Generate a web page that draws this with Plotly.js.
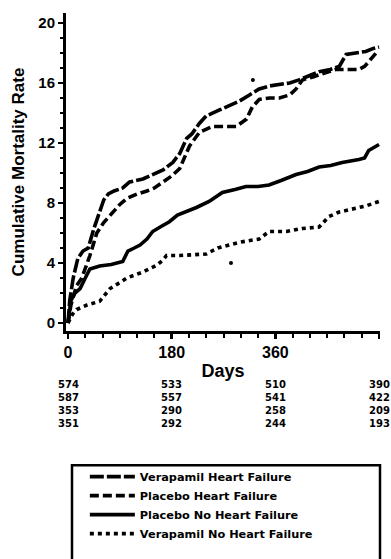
<!DOCTYPE html>
<html><head><meta charset="utf-8">
<script src="https://cdn.plot.ly/plotly-3.0.1.min.js"></script>
<style>html,body{margin:0;padding:0;background:#fff}</style>
</head><body><div id="chart" style="width:391px;height:559px"></div>
<script>
// ---- data ----
const seriesNames = ["Verapamil Heart Failure", "Placebo Heart Failure", "Placebo No Heart Failure", "Verapamil No Heart Failure"];

const verHFDays = [0,3,9,17,26,35,45,55,62,70,80,95,107,130,142,165,182,194,206,215,228,240,263,280,298,315,332,350,367,385,401,420,436,455,471,483,500,517,530,540];
const verHFRate = [0,1.5,3.0,4.3,4.8,5.0,6.3,7.5,8.2,8.6,8.8,9.0,9.4,9.6,9.8,10.2,10.7,11.3,12.3,12.6,13.3,13.8,14.2,14.5,14.8,15.2,15.6,15.8,15.9,16.0,16.2,16.5,16.75,16.9,17.1,17.9,18.0,18.1,18.3,18.4];

const plaHFDays = [0,5,15,24,38,50,62,78,90,102,120,137,150,165,180,194,211,228,251,270,292,310,320,332,350,367,385,396,407,425,441,465,485,505,515,522,535,540];
const plaHFRate = [0,1.2,2.5,3.0,4.5,6.0,6.7,7.4,7.9,8.3,8.6,8.8,9.0,9.4,9.8,10.3,11.8,12.7,13.1,13.1,13.1,13.6,14.4,14.9,15.0,15.0,15.2,15.6,16.2,16.4,16.6,16.9,16.9,16.9,17.1,17.4,18.0,18.1];

const plaNoHFDays = [0,5,12,21,30,38,55,75,95,104,115,125,137,147,160,176,190,205,223,245,268,290,309,330,349,370,396,416,436,456,476,505,515,522,530,540];
const plaNoHFRate = [0,1.5,2.0,2.3,3.0,3.6,3.8,3.9,4.1,4.8,5.0,5.2,5.6,6.1,6.4,6.75,7.2,7.4,7.7,8.1,8.7,8.9,9.1,9.1,9.2,9.5,9.9,10.1,10.4,10.5,10.7,10.9,11.0,11.5,11.7,11.9];

const verNoHFDays = [0,8,15,33,55,65,73,90,102,130,154,165,171,194,223,240,260,280,300,332,349,379,407,436,445,453,471,493,517,536,540];
const verNoHFRate = [0,0.6,0.9,1.2,1.45,1.9,2.3,2.7,3.0,3.4,3.85,4.2,4.5,4.5,4.6,4.6,5.0,5.2,5.4,5.6,6.1,6.1,6.3,6.4,6.8,7.1,7.4,7.6,7.8,8.05,8.1];

// stray specks printed in the original figure
const speckDays = [321, 283];
const speckRate = [16.2, 4.0];

// patients at risk
const atRiskDays = [0,180,360,540];
const atRiskVerHF = [574,533,510,390];
const atRiskPlaHF = [587,557,541,422];
const atRiskPlaNoHF = [353,290,258,209];
const atRiskVerNoHF = [351,292,244,193];

const xTicks = [0,180,360,540];
const yTicks = [0,4,8,12,16,20];

// ---- drawing ----
const FONT = "Liberation Sans, Arial, sans-serif";
const NUMFONT = "DejaVu Sans, sans-serif";
const plotTop = 13, plotBottom = 333, plotH = plotBottom - plotTop;
const py2paper = py => (plotBottom - py) / plotH;

const dashes = ["14px,3px", "9px,4px", "solid", "4px,4px"];
const xs = [verHFDays, plaHFDays, plaNoHFDays, verNoHFDays];
const ys = [verHFRate, plaHFRate, plaNoHFRate, verNoHFRate];
const traces = seriesNames.map((n, i) => ({
  type: "scatter", mode: "lines", name: n, x: xs[i], y: ys[i],
  line: {color: "#000", width: 3.6, dash: dashes[i]}
}));
traces.push({type: "scatter", mode: "markers", x: speckDays, y: speckRate, showlegend: false,
  marker: {color: "#000", size: 4}});

// one stacked label per column (rows in legend order)
const rows = [atRiskVerHF, atRiskPlaHF, atRiskPlaNoHF, atRiskVerNoHF];
const annotations = atRiskDays.map((d, ci) => ({
  xref: "x", yref: "paper", x: d, y: py2paper(406),
  xanchor: "center", yanchor: "middle", showarrow: false, align: "center",
  text: rows.map(r => String(r[ci])).join("<br>"),
  font: {family: NUMFONT, size: 10, color: "#000", weight: "bold"}
}));

const layout = {
  width: 391, height: 559,
  margin: {l: 66, r: 11, t: plotTop, b: 559 - plotBottom},
  paper_bgcolor: "#fff", plot_bgcolor: "#fff",
  showlegend: true,
  legend: {
    x: 0.06, y: py2paper(465), xanchor: "left", yanchor: "top",
    bgcolor: "rgba(0,0,0,0)", borderwidth: 0, itemwidth: 45,
    font: {family: NUMFONT, size: 11.3, color: "#000", weight: "bold"},
    tracegroupgap: 0
  },
  xaxis: {
    range: [-3.5, 541.7], tickvals: xTicks, ticktext: xTicks.map(String),
    showgrid: false, zeroline: false, showline: true, linecolor: "#000", linewidth: 3,
    ticks: "outside", ticklen: 5, tickwidth: 2.5, tickcolor: "#000",
    minor: {dtick: 30, tick0: 0, ticks: "outside", ticklen: 4, tickwidth: 2, tickcolor: "#000"},
    tickfont: {family: FONT, size: 16, color: "#000", weight: "bold"},
    title: {text: "Days", standoff: 5, font: {family: FONT, size: 18, color: "#000", weight: "bold"}},
    automargin: false, fixedrange: true
  },
  yaxis: {
    range: [-0.53, 20.66], tickvals: yTicks, ticktext: yTicks.map(String),
    showgrid: false, zeroline: false, showline: true, linecolor: "#000", linewidth: 3,
    ticks: "outside", ticklen: 5, tickwidth: 2.5, tickcolor: "#000",
    minor: {dtick: 1, tick0: 0, ticks: "outside", ticklen: 3, tickwidth: 1.5, tickcolor: "#000"},
    tickfont: {family: FONT, size: 15, color: "#000", weight: "bold"},
    title: {text: "Cumulative Mortality Rate", standoff: 10, font: {family: FONT, size: 17, color: "#000", weight: "bold"}},
    automargin: false, fixedrange: true
  },
  shapes: [{
    type: "rect", xref: "paper", yref: "paper",
    x0: (72 - 66) / 314, x1: (380 - 66) / 314,
    y0: py2paper(570), y1: py2paper(468),
    line: {color: "#000", width: 2.5}, fillcolor: "rgba(0,0,0,0)"
  }],
  annotations: annotations
};

Plotly.newPlot("chart", traces, layout, {displayModeBar: false, staticPlot: true});
</script></body></html>
